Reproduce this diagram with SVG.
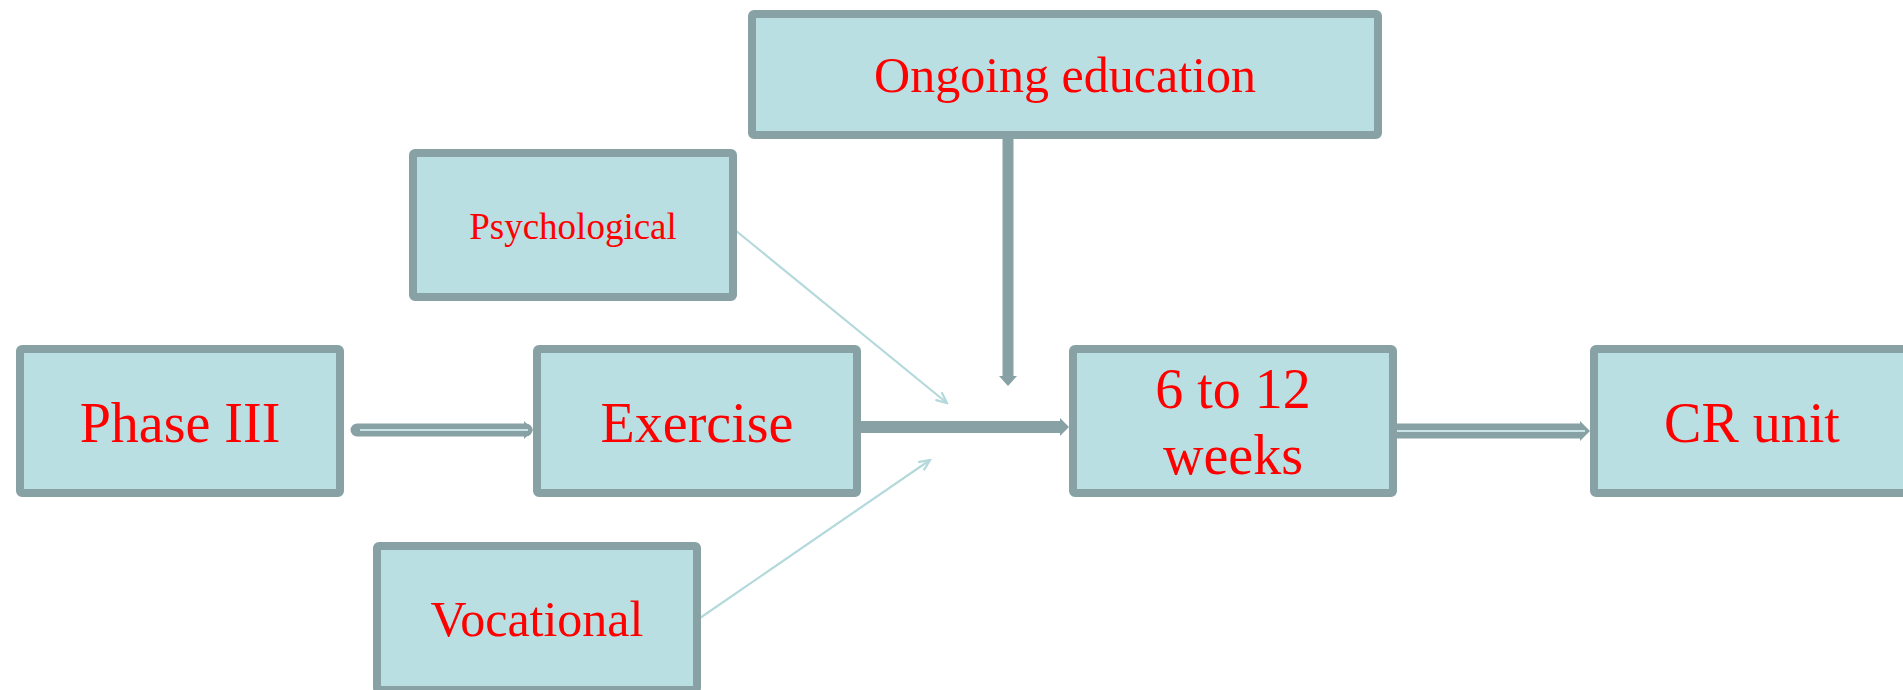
<svg xmlns="http://www.w3.org/2000/svg" width="1903" height="690" viewBox="0 0 1903 690">
  <style>
    .box { fill: #BADFE2; stroke: #88A1A4; stroke-width: 8; }
    .lbl { font-family: "Liberation Serif", "Times New Roman", serif; fill: #FF0000; text-anchor: middle; }
    .thin { stroke: #B4D9DC; stroke-width: 2.2; fill: none; }
    .thick { stroke: #88A1A4; fill: none; }
    .core { stroke: #C9E4E6; stroke-width: 2; fill: none; }
  </style>
  <defs>
    <marker id="openArrow" markerWidth="14" markerHeight="12" refX="12" refY="6" orient="auto" markerUnits="userSpaceOnUse">
      <path d="M1,1 L12,6 L1,11" fill="none" stroke="#B4D9DC" stroke-width="2.2"/>
    </marker>
  </defs>

  <!-- connectors -->
  <g id="connectors">
    <!-- Phase III to Exercise: hollow double-line arrow -->
    <line class="thick" x1="357" y1="430" x2="526" y2="430" stroke-width="13" stroke-linecap="round"/>
    <polygon points="524,421 533,430 524,439" fill="#88A1A4"/>
    <line class="core" x1="360" y1="430" x2="528" y2="430"/>

    <!-- Exercise to 6 to 12 weeks: solid bar -->
    <line class="thick" x1="861" y1="427" x2="1062" y2="427" stroke-width="12"/>
    <polygon points="1060,418 1069,427 1060,436" fill="#88A1A4"/>

    <!-- Ongoing education down to the main line -->
    <line class="thick" x1="1008" y1="139" x2="1008" y2="378" stroke-width="11"/>
    <polygon points="999,376 1008,386 1017,376" fill="#88A1A4"/>

    <!-- 6 to 12 weeks to CR unit: hollow double-line arrow -->
    <line class="thick" x1="1397" y1="431" x2="1582" y2="431" stroke-width="15"/>
    <polygon points="1580,421 1590,431 1580,441" fill="#88A1A4"/>
    <line class="core" x1="1397" y1="431" x2="1585" y2="431"/>

    <!-- Psychological and Vocational feeders -->
    <line class="thin" x1="735" y1="230" x2="947" y2="403" marker-end="url(#openArrow)"/>
    <line class="thin" x1="700" y1="618" x2="930" y2="460" marker-end="url(#openArrow)"/>
  </g>

  <g id="node-ongoing">
    <rect class="box" x="752" y="14" width="626" height="121" rx="2"/>
    <text class="lbl" x="1065" y="92" font-size="50">Ongoing education</text>
  </g>

  <g id="node-psychological">
    <rect class="box" x="413" y="153" width="320" height="144" rx="2"/>
    <text class="lbl" x="573" y="239" font-size="37">Psychological</text>
  </g>

  <g id="node-phase3">
    <rect class="box" x="20" y="349" width="320" height="144" rx="2"/>
    <text class="lbl" x="180" y="442" font-size="56">Phase III</text>
  </g>

  <g id="node-exercise">
    <rect class="box" x="537" y="349" width="320" height="144" rx="2"/>
    <text class="lbl" x="697" y="442" font-size="56">Exercise</text>
  </g>

  <g id="node-weeks">
    <rect class="box" x="1073" y="349" width="320" height="144" rx="2"/>
    <text class="lbl" x="1233" y="408" font-size="56">6 to 12</text>
    <text class="lbl" x="1233" y="474" font-size="56">weeks</text>
  </g>

  <g id="node-cr">
    <rect class="box" x="1594" y="349" width="320" height="144" rx="2"/>
    <text class="lbl" x="1752" y="442" font-size="56">CR unit</text>
  </g>

  <g id="node-vocational">
    <rect class="box" x="377" y="546" width="320" height="144" rx="2"/>
    <text class="lbl" x="537" y="636" font-size="50">Vocational</text>
  </g>
</svg>
